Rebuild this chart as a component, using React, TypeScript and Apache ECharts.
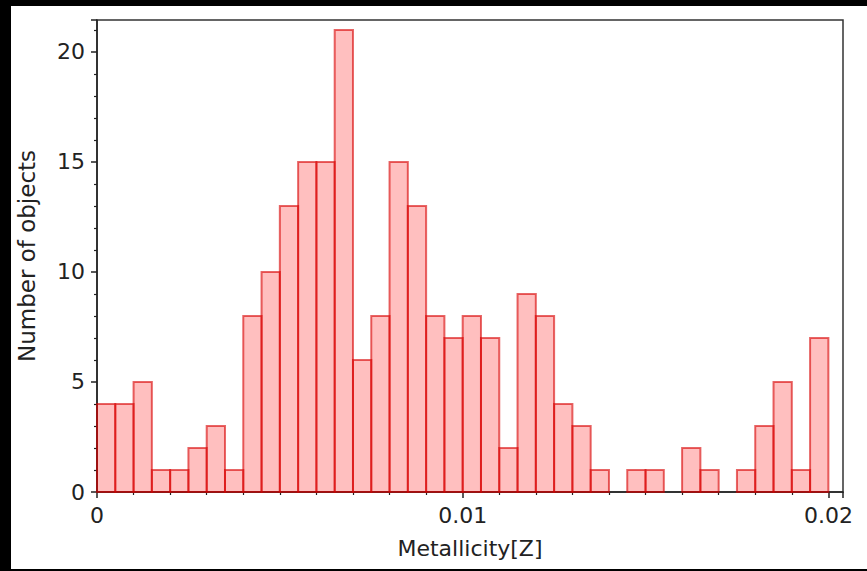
import React, { useEffect, useRef } from 'react';
import * as echarts from 'echarts';

// histogram counts, 40 bins of width 0.0005 from Z = 0 to 0.02
const binStart = 0;
const binWidth = 0.0005;
const counts = [
  4, 4, 5, 1, 1, 2, 3, 1, 8, 10,
  13, 15, 15, 21, 6, 8, 15, 13, 8, 7,
  8, 7, 2, 9, 8, 4, 3, 1, 0, 1,
  1, 0, 2, 1, 0, 1, 3, 5, 1, 7,
];
const yTickLabels = [0, 5, 10, 15, 20];
const xTickLabels = ['0', '0.01', '0.02'];

const FONT = '"DejaVu Sans", sans-serif';
const INK = '#222';

const App: React.FC = () => {
  const ref = useRef<HTMLDivElement>(null);

  useEffect(() => {
    if (!ref.current) return;
    const chart = echarts.init(ref.current, null, { renderer: 'svg' });

    const bins = counts.map((c, i) => [binStart + i * binWidth, binStart + (i + 1) * binWidth, c]);

    chart.setOption({
      animation: false,
      backgroundColor: '#fff',
      grid: {
        left: 86, right: 24, top: 14, bottom: 77,
        outerBoundsMode: 'none',
        show: true, borderColor: '#333', borderWidth: 1.5, backgroundColor: 'transparent',
      },
      xAxis: {
        type: 'value',
        min: 0,
        max: 0.0204,
        interval: 0.01,
        name: 'Metallicity[Z]',
        nameLocation: 'middle',
        nameGap: 45,
        nameTextStyle: { fontFamily: FONT, fontSize: 22, color: INK },
        axisLine: { lineStyle: { color: INK, width: 1.5 } },
        axisTick: { show: true, length: 6, lineStyle: { color: INK, width: 1.5 } },
        minorTick: { show: true, splitNumber: 10, length: 3, lineStyle: { color: INK, width: 1.2 } },
        splitLine: { show: false },
        axisLabel: {
          fontFamily: FONT, fontSize: 22, color: INK, margin: 12,
          showMaxLabel: false,
          formatter: (v: number) => {
            const k = Math.round(v / 0.01);
            return Math.abs(v - k * 0.01) < 1e-9 && k < xTickLabels.length ? xTickLabels[k] : '';
          },
        },
      },
      yAxis: {
        type: 'value',
        min: 0,
        max: 21.45,
        interval: 5,
        name: 'Number of objects',
        nameLocation: 'middle',
        nameGap: 59,
        nameTextStyle: { fontFamily: FONT, fontSize: 23, color: INK },
        axisLine: { show: true, lineStyle: { color: INK, width: 1.5 } },
        axisTick: { show: true, length: 6, lineStyle: { color: INK, width: 1.5 } },
        minorTick: { show: true, splitNumber: 5, length: 3, lineStyle: { color: INK, width: 1.2 } },
        splitLine: { show: false },
        axisLabel: {
          fontFamily: FONT, fontSize: 22, color: INK, margin: 12,
          showMaxLabel: false,
          formatter: (v: number) => (yTickLabels.includes(v) ? String(v) : ''),
        },
      },
      series: [{
        type: 'custom',
        data: bins,
        encode: { x: [0, 1], y: 2 },
        renderItem: (params: any, api: any) => {
          const h = api.value(2);
          if (!h) return null;
          const p0 = api.coord([api.value(0), h]);
          const p1 = api.coord([api.value(1), 0]);
          return {
            type: 'rect',
            shape: { x: p0[0], y: p0[1], width: p1[0] - p0[0], height: p1[1] - p0[1] },
            style: { fill: 'rgba(255,0,0,0.25)', stroke: 'rgba(215,0,0,0.6)', lineWidth: 2 },
          };
        },
      }],
    });

    return () => { chart.dispose(); };
  }, []);

  return (
    <div style={{ position: 'fixed', left: 0, top: 0, width: 867, height: 571, background: '#000' }}>
      <div ref={ref} style={{ position: 'absolute', left: 11, top: 6, width: 856, height: 563 }} />
    </div>
  );
};

export default App;
